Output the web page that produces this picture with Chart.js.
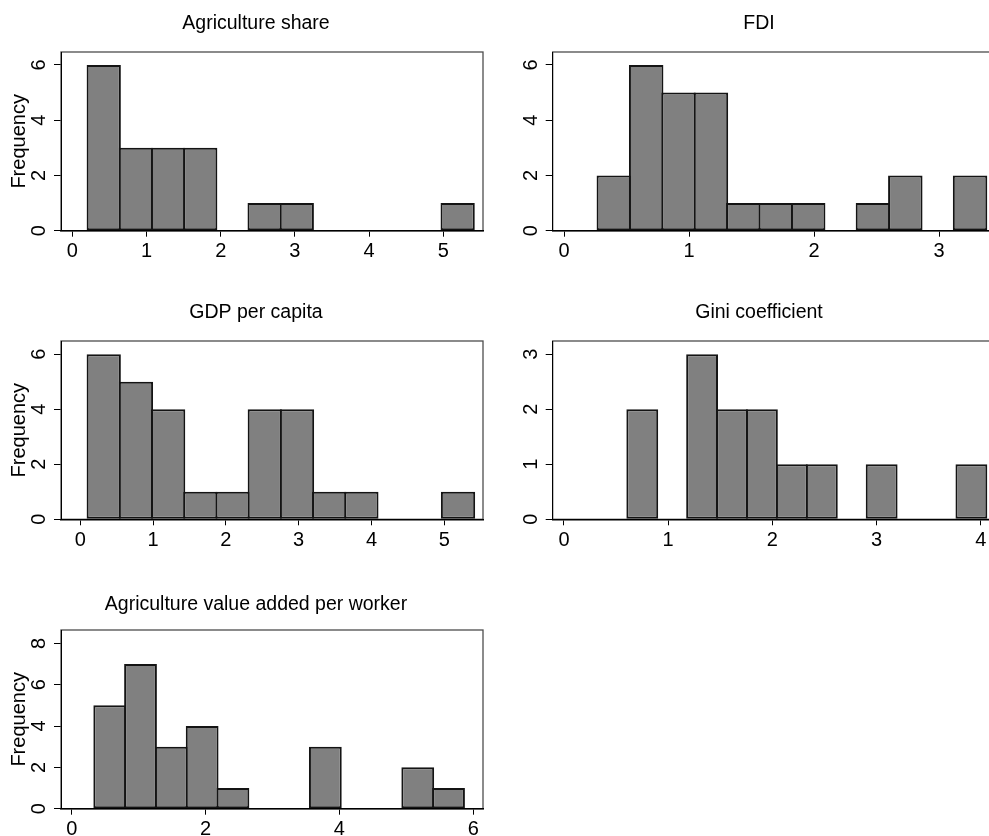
<!DOCTYPE html>
<html>
<head>
<meta charset="utf-8">
<script src="https://cdn.jsdelivr.net/npm/chart.js@4.4.0/dist/chart.umd.min.js"></script>
<style>
  html, body { margin: 0; padding: 0; background: #fff; }
  body { width: 989px; height: 836px; overflow: hidden; position: relative; }
  canvas { position: absolute; }
</style>
</head>
<body>
<canvas id="agriShare"></canvas>
<canvas id="fdi"></canvas>
<canvas id="gdp"></canvas>
<canvas id="gini"></canvas>
<canvas id="agriWorker"></canvas>
<script>
// histogram bins: 12 equal-width bins per panel (edges) + counts
const AGRI_SHARE_EDGES = [0.207, 0.641, 1.074, 1.508, 1.941, 2.375, 2.809, 3.242, 3.676, 4.109, 4.543, 4.977, 5.410];
const AGRI_SHARE_FREQ  = [6, 3, 3, 3, 0, 1, 1, 0, 0, 0, 0, 1];
const AGRI_SHARE_XTICKS = [0, 1, 2, 3, 4, 5];
const AGRI_SHARE_YTICKS = [0, 2, 4, 6];

const FDI_EDGES = [0.269, 0.528, 0.787, 1.046, 1.305, 1.564, 1.824, 2.083, 2.342, 2.601, 2.860, 3.119, 3.378];
const FDI_FREQ  = [2, 6, 5, 5, 1, 1, 1, 0, 1, 2, 0, 2];
const FDI_XTICKS = [0, 1, 2, 3];
const FDI_YTICKS = [0, 2, 4, 6];

const GDP_EDGES = [0.101, 0.543, 0.986, 1.428, 1.871, 2.313, 2.756, 3.198, 3.640, 4.083, 4.525, 4.968, 5.410];
const GDP_FREQ  = [6, 5, 4, 1, 1, 4, 4, 1, 1, 0, 0, 1];
const GDP_XTICKS = [0, 1, 2, 3, 4, 5];
const GDP_YTICKS = [0, 2, 4, 6];

const GINI_EDGES = [0.608, 0.895, 1.182, 1.469, 1.756, 2.043, 2.331, 2.618, 2.905, 3.192, 3.479, 3.766, 4.053];
const GINI_FREQ  = [2, 0, 3, 2, 2, 1, 1, 0, 1, 0, 0, 1];
const GINI_XTICKS = [0, 1, 2, 3, 4];
const GINI_YTICKS = [0, 1, 2, 3];

const AGRI_WORKER_EDGES = [0.338, 0.798, 1.258, 1.719, 2.179, 2.639, 3.099, 3.559, 4.020, 4.480, 4.940, 5.400, 5.860];
const AGRI_WORKER_FREQ  = [5, 7, 3, 4, 1, 0, 0, 3, 0, 0, 2, 1];
const AGRI_WORKER_XTICKS = [0, 2, 4, 6];
const AGRI_WORKER_YTICKS = [0, 2, 4, 6, 8];

const FONT = "'Liberation Sans', Arial, Helvetica, sans-serif";
const TITLE_SIZE = 19.5;
const TICK_SIZE = 20;

// plot frame: thin grey lines around the chart area
const framePlugin = {
  id: 'frame',
  beforeDatasetsDraw(chart) {
    const { ctx, chartArea: a } = chart;
    ctx.save();
    ctx.strokeStyle = '#4d4d4d';
    ctx.lineWidth = 1.3;
    ctx.strokeRect(a.left, a.top, a.right - a.left, a.bottom - a.top);
    ctx.restore();
  }
};

function histogram(id, p) {
  const canvas = document.getElementById(id);
  canvas.width = p.w;
  canvas.height = p.h;
  canvas.style.left = p.x + 'px';
  canvas.style.top = p.y + 'px';

  const lh = TITLE_SIZE * 1.2;
  const padTop = p.titleY - p.y - lh / 2;
  const padBottom = p.box.t - p.y - lh - padTop;

  const points = p.freq.map((f, i) => ({
    x: (p.edges[i] + p.edges[i + 1]) / 2,
    y: f === 0 ? null : f
  }));

  new Chart(canvas, {
    type: 'bar',
    data: {
      datasets: [{
        data: points,
        backgroundColor: '#808080',
        borderColor: '#141414',
        borderWidth: 2,
        borderSkipped: false,
        inflateAmount: 0,
        barPercentage: 1.065,
        categoryPercentage: 1
      }]
    },
    options: {
      responsive: false,
      animation: false,
      events: [],
      layout: { padding: 0 },
      plugins: {
        legend: { display: false },
        tooltip: { enabled: false },
        title: {
          display: true,
          text: p.title,
          color: '#000',
          font: { family: FONT, size: TITLE_SIZE, weight: 'normal' },
          padding: { top: padTop, bottom: padBottom }
        }
      },
      scales: {
        x: {
          type: 'linear',
          min: p.xmin,
          max: p.xmax,
          offset: false,
          afterBuildTicks: s => { s.ticks = p.xticks.map(v => ({ value: v })); },
          afterFit: s => { s.height = p.y + p.h - p.box.b; },
          grid: { display: true, offset: false, drawOnChartArea: false, drawTicks: true, tickLength: 6, color: '#000', lineWidth: 1 },
          border: { display: true, color: '#000', width: 1.5, z: 1 },
          ticks: { color: '#000', font: { family: FONT, size: TICK_SIZE }, padding: 3, maxRotation: 0, autoSkip: false }
        },
        y: {
          min: 0,
          max: p.ymax,
          afterBuildTicks: s => { s.ticks = p.yticks.map(v => ({ value: v })); },
          afterFit: s => { s.width = p.box.l - p.x; },
          grid: { display: true, drawOnChartArea: false, drawTicks: true, tickLength: 7, color: '#000', lineWidth: 1 },
          border: { display: true, color: '#000', width: 1, z: 1 },
          ticks: { color: '#000', font: { family: FONT, size: TICK_SIZE }, padding: 9, minRotation: 90, maxRotation: 90, crossAlign: 'center', autoSkip: false },
          title: {
            display: !!p.ytitle,
            text: p.ytitle,
            color: '#000',
            font: { family: FONT, size: TICK_SIZE },
            padding: { top: 7, bottom: 0 }
          }
        },
        // empty right-hand margin so the title centres over the whole panel
        margin: {
          type: 'linear',
          position: 'right',
          display: true,
          afterFit: s => { s.width = p.x + p.w - p.box.r; },
          grid: { display: false },
          border: { display: false },
          ticks: { display: false }
        }
      }
    },
    plugins: [framePlugin]
  });
}

histogram('agriShare', {
  title: 'Agriculture share', ytitle: 'Frequency',
  edges: AGRI_SHARE_EDGES, freq: AGRI_SHARE_FREQ, xticks: AGRI_SHARE_XTICKS, yticks: AGRI_SHARE_YTICKS,
  xmin: -0.152, xmax: 5.535, ymax: 6.47,
  x: 0, y: 0, w: 512, h: 271, titleY: 23.5, box: { l: 61, t: 52, r: 483, b: 230.7 }
});

histogram('fdi', {
  title: 'FDI', ytitle: '',
  edges: FDI_EDGES, freq: FDI_FREQ, xticks: FDI_XTICKS, yticks: FDI_YTICKS,
  xmin: -0.0904, xmax: 3.488, ymax: 6.47,
  x: 490, y: 0, w: 538, h: 271, titleY: 23.5, box: { l: 552.7, t: 52, r: 1000, b: 230.7 }
});

histogram('gdp', {
  title: 'GDP per capita', ytitle: 'Frequency',
  edges: GDP_EDGES, freq: GDP_FREQ, xticks: GDP_XTICKS, yticks: GDP_YTICKS,
  xmin: -0.265, xmax: 5.532, ymax: 6.484,
  x: 0, y: 289, w: 512, h: 271, titleY: 313, box: { l: 61, t: 341, r: 483, b: 519.3 }
});

histogram('gini', {
  title: 'Gini coefficient', ytitle: '',
  edges: GINI_EDGES, freq: GINI_FREQ, xticks: GINI_XTICKS, yticks: GINI_YTICKS,
  xmin: -0.108, xmax: 4.184, ymax: 3.242,
  x: 490, y: 289, w: 538, h: 271, titleY: 313, box: { l: 552.7, t: 341, r: 1000, b: 519.3 }
});

histogram('agriWorker', {
  title: 'Agriculture value added per worker', ytitle: 'Frequency',
  edges: AGRI_WORKER_EDGES, freq: AGRI_WORKER_FREQ, xticks: AGRI_WORKER_XTICKS, yticks: AGRI_WORKER_YTICKS,
  xmin: -0.16, xmax: 6.145, ymax: 8.645,
  x: 0, y: 578, w: 512, h: 258, titleY: 605, box: { l: 61, t: 630, r: 483, b: 808.7 }
});
</script>
</body>
</html>
